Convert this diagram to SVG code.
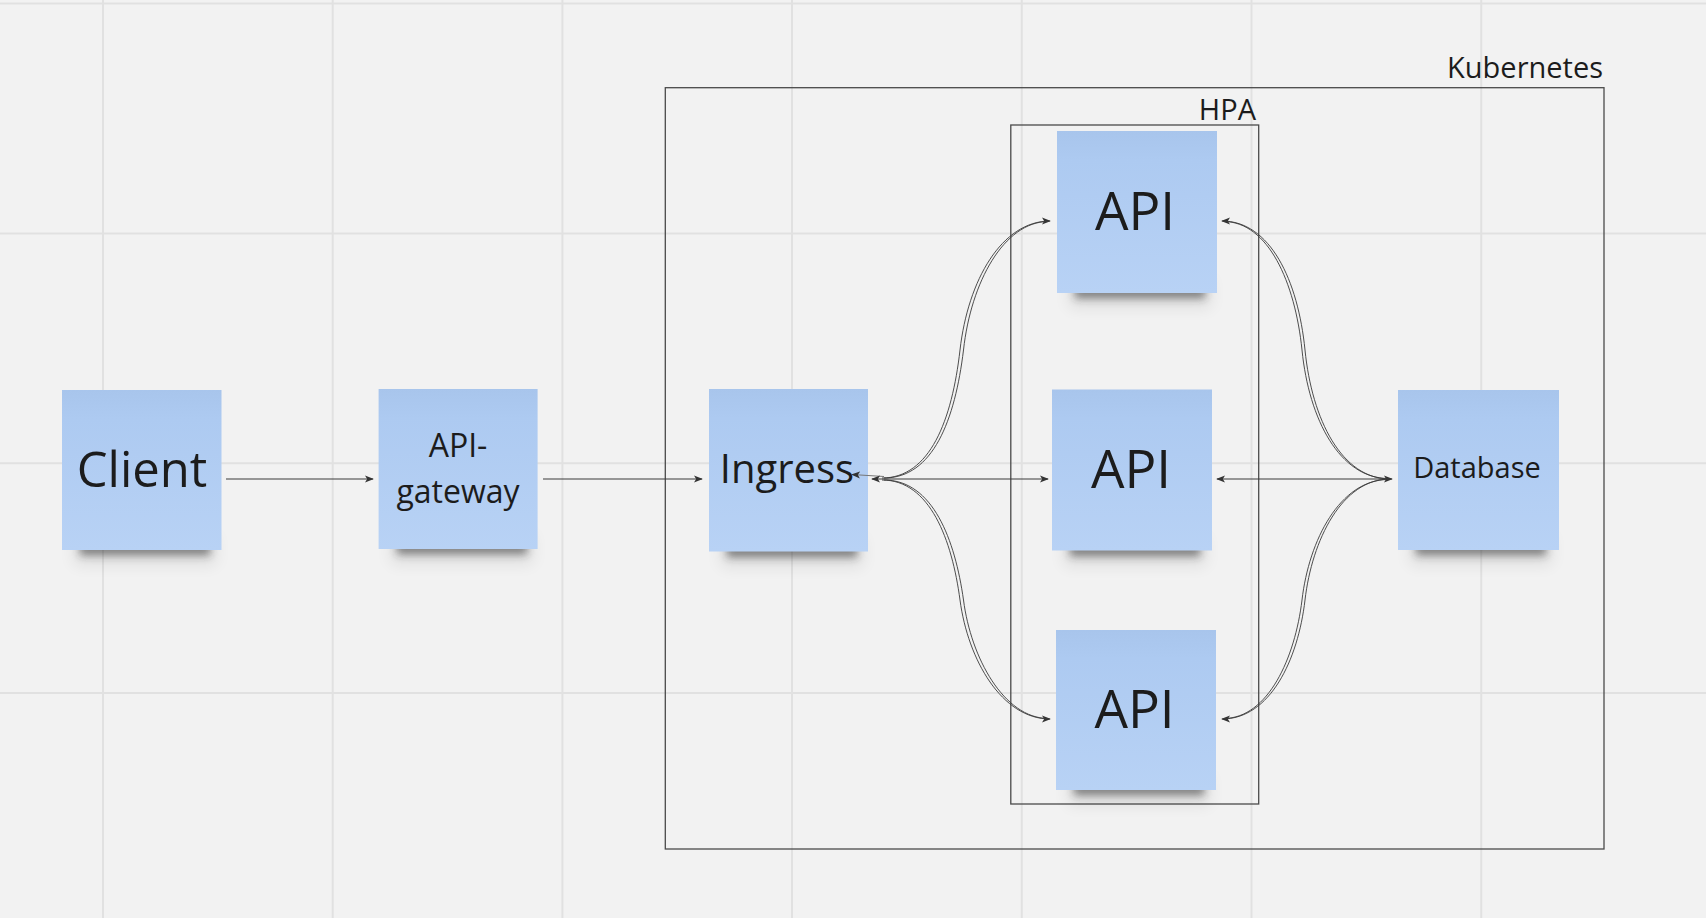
<svg xmlns="http://www.w3.org/2000/svg" width="1706" height="918" viewBox="0 0 1706 918">
<defs>
<style>
.grid{stroke:#e1e1e1;stroke-width:2}
.frame{fill:none;stroke:#4a4a4a;stroke-width:1.3}
.note{fill:url(#noteGrad)}
.shadow{fill:#2a2a2a;opacity:0.55;filter:url(#blur)}
.shadow2{fill:#000;opacity:0.08;filter:url(#blur2)}
.lbl{font-family:"Open Sans","Noto Sans","DejaVu Sans",sans-serif;fill:#1c1c1c;text-anchor:middle}
.ttl{font-family:"Open Sans","Noto Sans","DejaVu Sans",sans-serif;fill:#1c1c1c;text-anchor:end;font-size:29px}
.conn{fill:none;stroke:#3a3a3a;stroke-width:1.2}
.curve{fill:none;stroke:#3a3a3a;stroke-width:0.9}
.faint{fill:none;stroke:#777;stroke-width:1}
</style>
<linearGradient id="noteGrad" x1="0" y1="0" x2="0" y2="1">
<stop offset="0" stop-color="#a8c5ec"/>
<stop offset="0.18" stop-color="#adcaf1"/>
<stop offset="1" stop-color="#b8d2f5"/>
</linearGradient>
<filter id="blur" x="-20%" y="-100%" width="140%" height="300%"><feGaussianBlur stdDeviation="4"/></filter>
<filter id="blur2" x="-30%" y="-100%" width="160%" height="300%"><feGaussianBlur stdDeviation="8"/></filter>
<marker id="arr" viewBox="0 0 10 8" refX="9" refY="4" markerWidth="9" markerHeight="7.5" markerUnits="userSpaceOnUse" orient="auto-start-reverse">
<path d="M0,0 L10,4 L0,8 L2.5,4 z" fill="#333"/>
</marker>
</defs>

<rect width="1706" height="918" fill="#f2f2f2"/>
<g id="grid">
<line class="grid" x1="103" y1="0" x2="103" y2="918"/>
<line class="grid" x1="332.7" y1="0" x2="332.7" y2="918"/>
<line class="grid" x1="562.4" y1="0" x2="562.4" y2="918"/>
<line class="grid" x1="792" y1="0" x2="792" y2="918"/>
<line class="grid" x1="1021.8" y1="0" x2="1021.8" y2="918"/>
<line class="grid" x1="1251.5" y1="0" x2="1251.5" y2="918"/>
<line class="grid" x1="1481.2" y1="0" x2="1481.2" y2="918"/>
<line class="grid" x1="0" y1="3.5" x2="1706" y2="3.5"/>
<line class="grid" x1="0" y1="233.5" x2="1706" y2="233.5"/>
<line class="grid" x1="0" y1="463.3" x2="1706" y2="463.3"/>
<line class="grid" x1="0" y1="693" x2="1706" y2="693"/>
</g>

<g id="kubernetes">
<rect class="frame" x="665.3" y="87.7" width="938.7" height="761.3"/>
<text class="ttl" x="1603" y="78">Kubernetes</text>
</g>

<g id="hpa">
<rect class="frame" x="1010.8" y="125" width="247.9" height="679"/>
<text class="ttl" x="1256" y="120">HPA</text>
</g>

<g id="client">
<rect class="shadow2" x="74" y="535" width="142" height="30"/>
<rect class="shadow" x="80" y="543" width="130" height="12"/>
<rect class="note" x="62" y="390" width="159.5" height="160"/>
<text class="lbl" x="142" y="486.5" font-size="49">Client</text>
</g>

<g id="api-gateway">
<rect class="shadow2" x="391" y="534" width="142" height="30"/>
<rect class="shadow" x="397" y="542" width="130" height="12"/>
<rect class="note" x="378.6" y="389" width="159" height="160"/>
<text class="lbl" x="458" y="457" font-size="32">API-</text>
<text class="lbl" x="458" y="503" font-size="32">gateway</text>
</g>

<g id="ingress">
<rect class="shadow2" x="721" y="537" width="142" height="30"/>
<rect class="shadow" x="727" y="545" width="130" height="12"/>
<rect class="note" x="709" y="389" width="159" height="162.5"/>
<text class="lbl" x="787" y="482.7" font-size="40">Ingress</text>
</g>

<g id="api-top">
<rect class="shadow2" x="1069" y="278" width="142" height="30"/>
<rect class="shadow" x="1075" y="286" width="130" height="12"/>
<rect class="note" x="1057" y="131" width="160" height="162"/>
<text class="lbl" x="1135" y="230" font-size="53">API</text>
</g>

<g id="api-middle">
<rect class="shadow2" x="1064" y="536" width="142" height="30"/>
<rect class="shadow" x="1070" y="544" width="130" height="12"/>
<rect class="note" x="1052" y="389.5" width="160" height="161"/>
<text class="lbl" x="1131" y="488" font-size="53">API</text>
</g>

<g id="api-bottom">
<rect class="shadow2" x="1068" y="775" width="142" height="30"/>
<rect class="shadow" x="1074" y="783" width="130" height="12"/>
<rect class="note" x="1056" y="630" width="160" height="160"/>
<text class="lbl" x="1134.5" y="727.7" font-size="53">API</text>
</g>

<g id="database">
<rect class="shadow2" x="1410" y="535" width="142" height="30"/>
<rect class="shadow" x="1416" y="543" width="130" height="12"/>
<rect class="note" x="1398" y="390" width="161" height="160"/>
<text class="lbl" x="1477" y="478" font-size="29">Database</text>
</g>

<g id="connectors">
<line class="conn" x1="226" y1="479" x2="373" y2="479" marker-end="url(#arr)"/>
<line class="conn" x1="543" y1="479" x2="702" y2="479" marker-end="url(#arr)"/>
<line class="faint" x1="884" y1="476.5" x2="852" y2="474.5" marker-end="url(#arr)"/>
<line class="conn" x1="872" y1="479" x2="1048" y2="479" marker-start="url(#arr)" marker-end="url(#arr)"/>
<line class="conn" x1="1217" y1="479" x2="1392" y2="479" marker-start="url(#arr)" marker-end="url(#arr)"/>

<path class="curve" d="M882,478 C930,478 952,420 960,350 C968,280 1002,221 1050,221" marker-end="url(#arr)"/>
<path class="curve" d="M884,478 C933,478 955,420 963.5,350 C971,282 1004,222 1048,221.5"/>
<path class="curve" d="M882,480 C930,480 952,540 960,600 C968,660 1002,719 1050,719" marker-end="url(#arr)"/>
<path class="curve" d="M884,480 C933,480 955,540 963.5,600 C971,658 1004,718 1048,718.5"/>

<path class="curve" d="M1390,479 C1342,479 1312,420 1305,350 C1298,280 1270,221 1222,221" marker-end="url(#arr)"/>
<path class="curve" d="M1388,478.5 C1340,478 1309,420 1302,350 C1295,282 1268,222 1224,221.5"/>
<path class="curve" d="M1390,479 C1342,479 1312,540 1305,600 C1298,660 1270,719 1222,719" marker-end="url(#arr)"/>
<path class="curve" d="M1388,479.5 C1340,480 1309,540 1302,600 C1295,658 1268,718 1224,718.5"/>
</g>
</svg>
